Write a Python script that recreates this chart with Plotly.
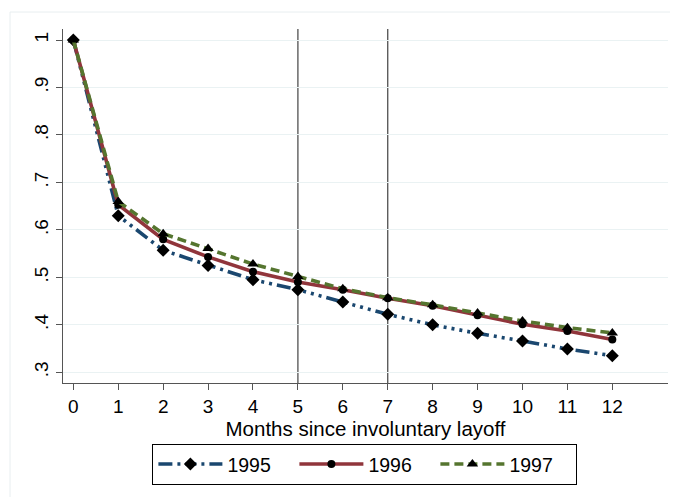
import plotly.graph_objects as go

months = list(range(13))
y1995 = [1.0, 0.630, 0.557, 0.525, 0.495, 0.474, 0.448, 0.422, 0.400, 0.382, 0.366, 0.349, 0.335]
y1996 = [1.0, 0.653, 0.580, 0.543, 0.512, 0.490, 0.474, 0.456, 0.440, 0.420, 0.401, 0.387, 0.369]
y1997 = [1.0, 0.660, 0.592, 0.561, 0.528, 0.502, 0.476, 0.457, 0.442, 0.425, 0.408, 0.394, 0.383]
series_names = ["1995", "1996", "1997"]
ytick_vals = [0.3, 0.4, 0.5, 0.6, 0.7, 0.8, 0.9, 1.0]
ytick_text = [".3", ".4", ".5", ".6", ".7", ".8", ".9", "1"]
vlines = [5, 7]
xlabel = "Months since involuntary layoff"

FONT = "Liberation Sans, Arial, Helvetica, sans-serif"

fig = go.Figure()
fig.add_trace(go.Scatter(
    x=months, y=y1995, name=series_names[0], mode="lines+markers",
    line=dict(color="#1a476f", width=3.6,
              dash="14px,5px,3px,5px,3px,5px,3px,5px,3px,5px"),
    marker=dict(symbol="diamond", size=10, color="black")))
fig.add_trace(go.Scatter(
    x=months, y=y1996, name=series_names[1], mode="lines+markers",
    line=dict(color="#90353b", width=3.6),
    marker=dict(symbol="circle", size=8, color="black")))
fig.add_trace(go.Scatter(
    x=months, y=y1997, name=series_names[2], mode="lines+markers",
    line=dict(color="#55752f", width=3.6, dash="9px,5px"),
    marker=dict(symbol="triangle-up", size=10, color="black")))

for v in vlines:
    fig.add_shape(type="line", x0=v, x1=v, y0=0, y1=1, xref="x", yref="paper",
                  line=dict(color="#505050", width=1.3), layer="below")

# outer graph-region frame (light)
fig.add_shape(type="rect", xref="paper", yref="paper",
              x0=-0.0876, x1=1.2, y0=-0.5, y1=1.048,
              line=dict(color="#e8eef0", width=1))

fig.update_layout(
    width=678, height=497,
    margin=dict(l=55, r=18, t=21, b=122, autoexpand=False),
    paper_bgcolor="white", plot_bgcolor="white",
    font=dict(family=FONT, size=19, color="black"),
    showlegend=True,
    legend=dict(orientation="h", x=0.499, xanchor="center", y=-0.172, yanchor="top",
                bordercolor="black", borderwidth=1, font=dict(size=19.5),
                entrywidth=62, entrywidthmode="pixels", itemwidth=64,
                traceorder="normal", tracegroupgap=0),
    xaxis=dict(range=[-0.23, 13.24], tickvals=months, ticks="outside", ticklen=6,
               tickcolor="#555555", showline=True, linecolor="#555555", linewidth=1.2,
               showgrid=False, zeroline=False, tickfont=dict(size=19), automargin=False,
               title=dict(text=xlabel, font=dict(size=20.5), standoff=0)),
    yaxis=dict(range=[0.2774, 1.0232], tickvals=ytick_vals, ticktext=ytick_text,
               tickangle=-90, ticks="outside", ticklen=6, tickcolor="#555555",
               showline=True, linecolor="#555555", linewidth=1.2, automargin=False,
               showgrid=True, gridcolor="#eaf2f3", gridwidth=1.2, zeroline=False,
               tickfont=dict(size=19)),
)

fig.write_html("out.html")
